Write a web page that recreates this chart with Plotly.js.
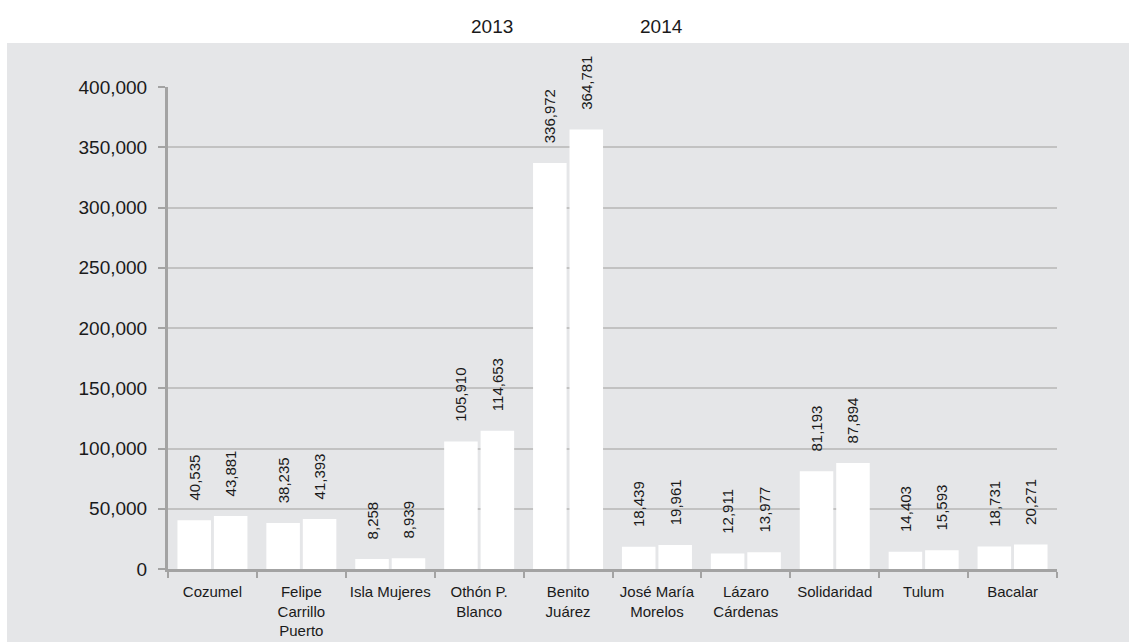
<!DOCTYPE html>
<html>
<head>
<meta charset="utf-8">
<script src="https://cdn.plot.ly/plotly-3.0.1.min.js"></script>
<style>html,body{margin:0;padding:0;background:#fff;}#chart{width:1129px;height:643px;}</style>
</head>
<body>
<div id="chart"></div>
<script>
const categories = ["Cozumel", "Felipe<br>Carrillo<br>Puerto", "Isla Mujeres", "Othón P.<br>Blanco", "Benito<br>Juárez", "José María<br>Morelos", "Lázaro<br>Cárdenas", "Solidaridad", "Tulum", "Bacalar"];
const values2013 = [40535, 38235, 8258, 105910, 336972, 18439, 12911, 81193, 14403, 18731];
const values2014 = [43881, 41393, 8939, 114653, 364781, 19961, 13977, 87894, 15593, 20271];
const seriesNames = ["2013", "2014"];
const yTicks = [0, 50000, 100000, 150000, 200000, 250000, 300000, 350000, 400000];

const FONT = '"Liberation Sans", Arial, sans-serif';
const PAD = '\u00a0\u00a0\u00a0\u00a0';

function barTrace(name, vals) {
  return {
    type: 'bar', name: name, x: categories, y: vals,
    marker: {color: '#ffffff', line: {width: 0}},
    texttemplate: PAD + '%{y:,}', textposition: 'outside', textangle: -90,
    textfont: {family: FONT, size: 15, color: '#1a1a1a'},
    cliponaxis: false, constraintext: 'none', hoverinfo: 'skip'
  };
}

const L = 168, R = 72, T = 87, B = 74, W = 1129, H = 643;
const pw = W - L - R, ph = H - T - B;
function px2x(p) { return (p - L) / pw; }
function py2y(p) { return (H - B - p) / ph; }

const data = [barTrace(seriesNames[0], values2013), barTrace(seriesNames[1], values2014)];
const layout = {
  width: W, height: H,
  margin: {l: L, r: R, t: T, b: B, pad: 0, autoexpand: false},
  paper_bgcolor: '#ffffff', plot_bgcolor: 'rgba(0,0,0,0)',
  font: {family: FONT, color: '#1a1a1a'},
  barmode: 'group', bargap: 0.18, bargroupgap: 0.08,
  showlegend: true,
  legend: {orientation: 'h', x: px2x(431), xanchor: 'left', y: py2y(26), yanchor: 'middle',
    font: {family: FONT, size: 19, color: '#1a1a1a'}, bgcolor: 'rgba(0,0,0,0)',
    entrywidth: 124, entrywidthmode: 'pixels', traceorder: 'normal'},
  xaxis: {type: 'category', showgrid: false, showline: true, linecolor: '#a3a3a3', linewidth: 3,
    ticks: 'outside', tickson: 'boundaries', ticklen: 6, tickwidth: 2, tickcolor: '#a3a3a3', tickangle: 0,
    ticklabelstandoff: 7,
    tickfont: {family: FONT, size: 15, color: '#1a1a1a'}, zeroline: false, fixedrange: true},
  yaxis: {range: [0, 400000], tickvals: yTicks, tickformat: ',', showgrid: true, gridcolor: '#c2c2c2', gridwidth: 2,
    showline: true, linecolor: '#a3a3a3', linewidth: 3, ticks: 'outside', ticklen: 7, tickwidth: 2, tickcolor: '#a3a3a3',
    ticklabelstandoff: 7,
    tickfont: {family: FONT, size: 19, color: '#1a1a1a'}, zeroline: false, fixedrange: true},
  shapes: [{type: 'rect', xref: 'paper', yref: 'paper', layer: 'below',
    x0: px2x(7), x1: px2x(1129), y0: py2y(642), y1: py2y(43),
    fillcolor: '#e5e6e8', line: {width: 0}}]
};
Plotly.newPlot('chart', data, layout, {displayModeBar: false, staticPlot: true});
</script>
</body>
</html>
